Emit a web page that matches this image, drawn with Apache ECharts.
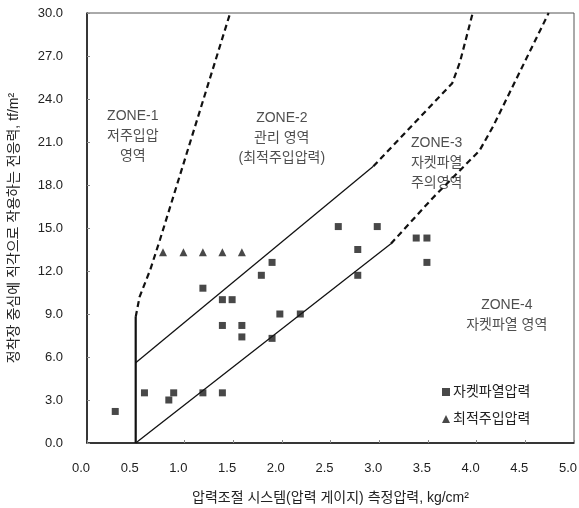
<!DOCTYPE html>
<html>
<head>
<meta charset="utf-8">
<script src="https://cdn.jsdelivr.net/npm/echarts@6/dist/echarts.min.js"></script>
<style>
  html, body { margin: 0; padding: 0; background: #fff; }
  #chartMain { width: 579px; height: 508px; }
</style>
</head>
<body>
<div id="chartMain"></div>
<script>
var myChart;
var option;
var FONT = "'Liberation Sans', 'Noto Sans CJK KR', sans-serif";

// 자켓파열압력 (squares)
var burstX = [0.29, 0.59, 0.84, 0.89, 1.19, 1.39, 1.19, 1.39, 1.49, 1.39, 1.59, 1.59, 1.79, 1.90, 1.90, 1.98, 2.19, 2.78, 2.78, 2.58, 2.98, 3.38, 3.49, 3.49];
var burstY = [2.2, 3.5, 3.0, 3.5, 3.5, 3.5, 10.8, 10.0, 10.0, 8.2, 8.2, 7.4, 11.7, 12.6, 7.3, 9.0, 9.0, 11.7, 13.5, 15.1, 15.1, 14.3, 14.3, 12.6];

// 최적주입압력 (triangles)
var optimalX = [0.78, 0.99, 1.19, 1.39, 1.59];
var optimalY = [13.3, 13.3, 13.3, 13.3, 13.3];

// zone boundaries [x, y]
var vertLine = [[0.5, 0], [0.5, 8.8]];
var zone12Dash = [[0.5, 8.8], [0.54, 10.2], [0.65, 12.1], [0.75, 14.2], [1.47, 30]];
var zone23Solid = [[0.5, 5.6], [2.94, 19.3]];
var zone23Dash = [[2.94, 19.3], [3.75, 25.1], [3.83, 26.6], [3.96, 30]];
var zone34Solid = [[0.5, 0], [3.12, 13.9]];
var zone34Dash = [[3.12, 13.9], [3.55, 17.1], [4.03, 20.4], [4.17, 22.1], [4.74, 30]];

// zone captions [x, y, text]
var zoneLabels = [
  [0.47, 21.4, 'ZONE-1\n저주입압\n영역'],
  [2.00, 21.3, 'ZONE-2\n관리 영역\n(최적주입압력)'],
  [3.59, 19.5, 'ZONE-3\n자켓파열\n주의영역'],
  [4.31, 8.9, 'ZONE-4\n자켓파열 영역']
];

function zip(xs, ys) {
  var out = [];
  for (var i = 0; i < xs.length; i++) out.push([xs[i], ys[i]]);
  return out;
}

function lineSeries(data, dashed, width) {
  return {
    type: 'line',
    data: data,
    showSymbol: false,
    symbol: 'none',
    silent: true,
    z: 1,
    lineStyle: {
      color: '#111',
      width: width,
      type: dashed ? [6, 4] : 'solid'
    }
  };
}

myChart = echarts.init(document.getElementById('chartMain'));

option = {
  animation: false,
  backgroundColor: '#fff',
  textStyle: { fontFamily: FONT },
  grid: {
    left: 87, right: 5, top: 13, bottom: 65,
    outerBoundsMode: 'none',
    containLabel: false,
    show: true, borderColor: '#555', borderWidth: 1
  },
  legend: {
    orient: 'vertical',
    left: 437, top: 380,
    itemWidth: 8, itemHeight: 8, itemGap: 13,
    data: ['자켓파열압력', '최적주입압력'],
    textStyle: { fontFamily: FONT, fontSize: 14, color: '#222', padding: [0, 0, 0, -2] }
  },
  xAxis: {
    type: 'value',
    min: 0, max: 5, interval: 0.5,
    name: '압력조절 시스템(압력 게이지) 측정압력, kg/cm²',
    nameLocation: 'middle', nameGap: 48,
    nameTextStyle: { fontFamily: FONT, fontSize: 14, color: '#222' },
    axisLine: { lineStyle: { color: '#111', width: 1.5 } },
    axisTick: { inside: true, length: 3, lineStyle: { color: '#888' } },
    axisLabel: {
      margin: 19, fontSize: 13, color: '#222', padding: [0, 12, 0, 0],
      formatter: function (v) { return v.toFixed(1); }
    },
    splitLine: { show: false }
  },
  yAxis: {
    type: 'value',
    min: 0, max: 30, interval: 3,
    name: '정착장 중심에 직각으로 작용하는 전응력, tf/m²',
    nameLocation: 'middle', nameGap: 66,
    nameTextStyle: { fontFamily: FONT, fontSize: 14, color: '#222' },
    axisLine: { lineStyle: { color: '#111', width: 1.5 } },
    axisTick: { inside: true, length: 3, lineStyle: { color: '#888' } },
    axisLabel: {
      margin: 24, fontSize: 13, color: '#222',
      formatter: function (v) { return v.toFixed(1); }
    },
    splitLine: { show: false }
  },
  series: [
    lineSeries(vertLine, false, 2.2),
    lineSeries(zone12Dash, true, 2.2),
    lineSeries(zone23Solid, false, 1.3),
    lineSeries(zone23Dash, true, 2.2),
    lineSeries(zone34Solid, false, 1.3),
    lineSeries(zone34Dash, true, 2.2),
    {
      name: '자켓파열압력',
      type: 'scatter',
      symbol: 'rect',
      symbolSize: 7,
      z: 3,
      itemStyle: { color: '#1a1a1a' },
      data: zip(burstX, burstY)
    },
    {
      name: '최적주입압력',
      type: 'scatter',
      symbol: 'triangle',
      symbolSize: 8,
      z: 3,
      itemStyle: { color: '#1a1a1a' },
      data: zip(optimalX, optimalY)
    },
    {
      type: 'scatter',
      symbolSize: 0,
      silent: true,
      z: 4,
      data: zoneLabels.map(function (d) { return [d[0], d[1], d[2]]; }),
      label: {
        show: true,
        position: 'inside',
        align: 'center',
        verticalAlign: 'middle',
        fontFamily: FONT,
        fontSize: 14,
        lineHeight: 20,
        color: '#222',
        formatter: function (p) { return p.data[2]; }
      }
    }
  ]
};

myChart.setOption(option);
</script>
</body>
</html>
